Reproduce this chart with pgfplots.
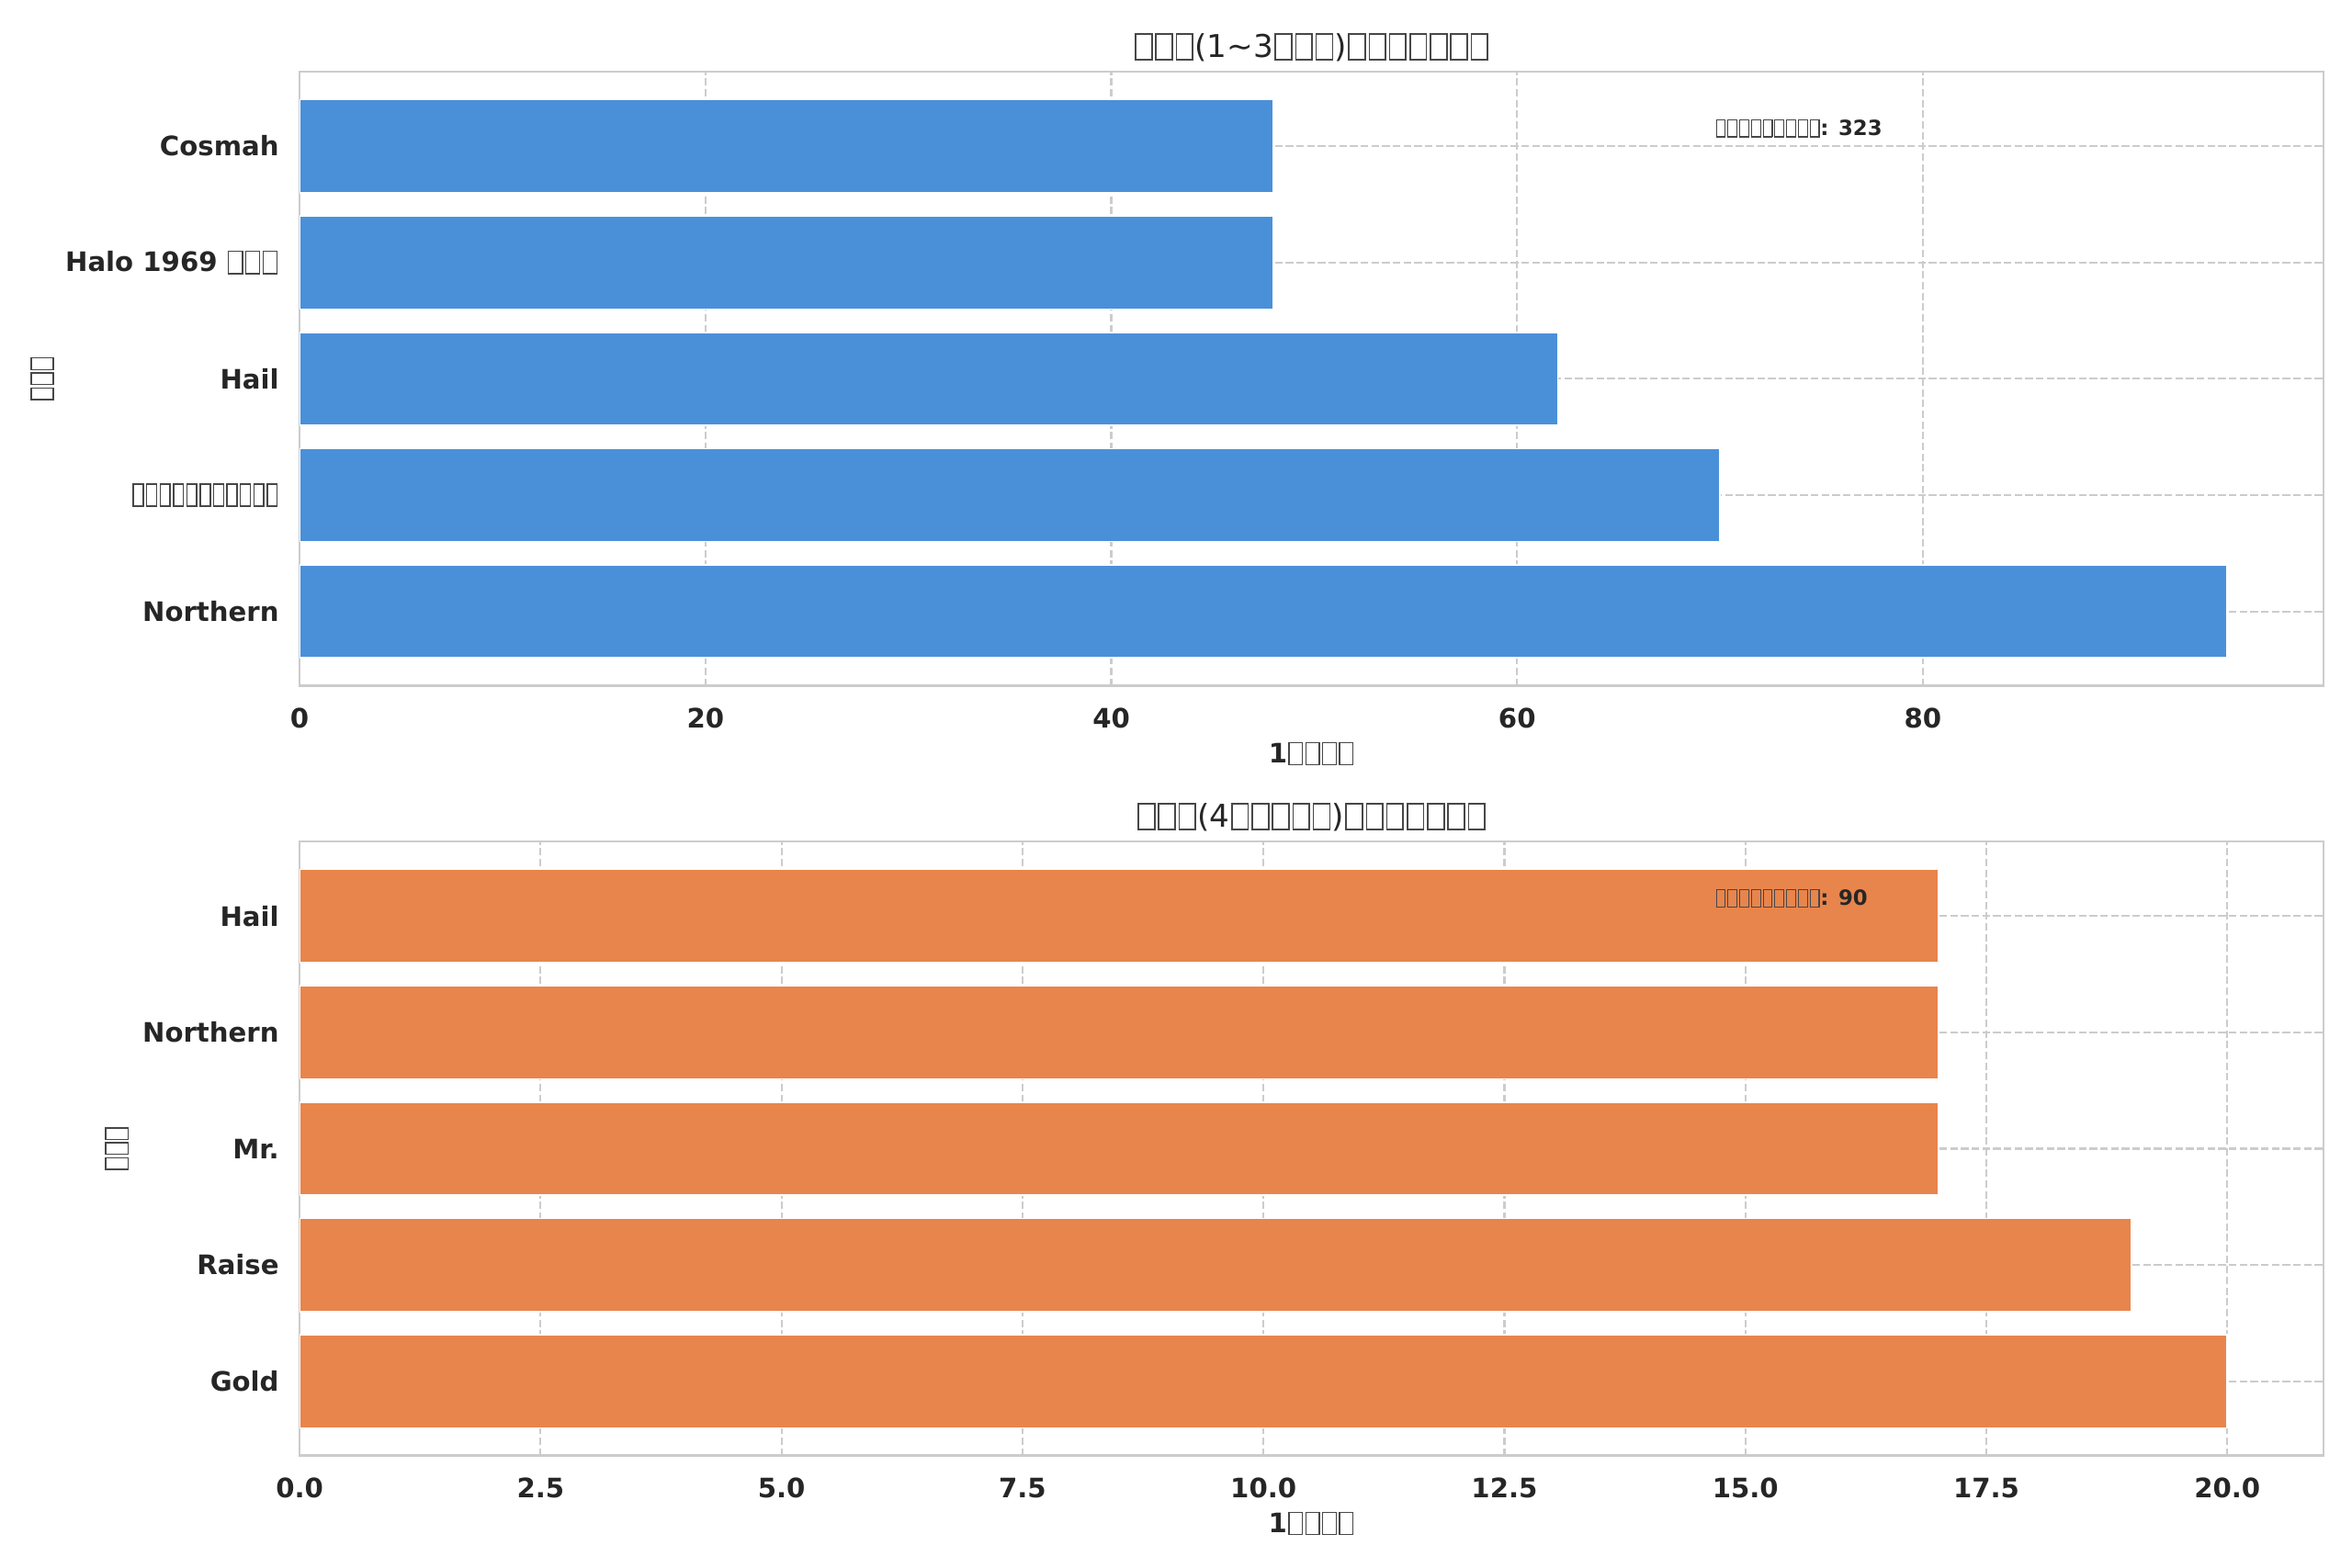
\documentclass[border=0pt]{standalone}
\usepackage{fontspec}
\setmainfont{DejaVu Sans}
\usepackage{pgfplots}
\pgfplotsset{compat=1.18}
\definecolor{barblue}{HTML}{4A90D9}
\definecolor{barorange}{HTML}{E8854C}
\definecolor{txt}{HTML}{262626}
\definecolor{gridc}{HTML}{CCCCCC}
% missing-glyph (tofu) boxes, as in the reference
\newcommand\tb[1][0.5em]{{\makebox[#1]{\raisebox{-0.05em}{\setlength\fboxsep{0pt}\setlength\fboxrule{0.05em}\color{txt!85}\fbox{\rule{0pt}{0.78em}\hspace{\dimexpr#1-0.18em\relax}}}}}}
\pgfplotsset{mystyle/.style={
  scale only axis, width=793.1pt, height=240.7pt,
  xbar, bar shift=0pt, bar width=0.8,
  ymin=-0.64, ymax=4.64, ytick={0,1,2,3,4}, xmin=0,
  grid=major,
  major grid style={gridc, line width=0.8pt, dash pattern=on 2.9pt off 1.3pt},
  axis line style={gridc, line width=0.9pt},
  major tick length=0pt,
  tick label style={font=\fontsize{10.5}{12}\selectfont\bfseries, text=txt, inner sep=0pt},
  xticklabel style={anchor=center, yshift=-12.6pt},
  yticklabel style={anchor=east, xshift=-7.9pt},
  /pgf/number format/assume math mode=true,
  title style={font=\fontsize{12.3}{14}\selectfont, text=txt, at={(0.5,1)}, anchor=center, yshift=3.6pt},
  xlabel style={font=\fontsize{10.5}{12}\selectfont\bfseries, text=txt, at={(0.5,0)}, anchor=center, yshift=-26.6pt},
  ylabel style={font=\fontsize{10.5}{12}\selectfont, text=txt, anchor=center},
}}
\newcommand\T{\tb[0.65em]}
\newcommand\X{\tb[0.63em]}
\newcommand\Y{\tb[0.56em]}
\newcommand\A{\tb[0.56em]}
\begin{document}
\begin{tikzpicture}
\useasboundingbox (0,0) rectangle (921.6pt,-614.5pt);
\begin{axis}[mystyle, at={(117.4pt,-28.1pt)}, anchor=north west,
  xmax=99.75, xtick={0,20,40,60,80},
  yticklabels={Northern,\tb\tb\tb\tb\tb\tb\tb\tb\tb\tb\tb,Hail,Halo 1969 \T\T\T,Cosmah},
  title={\T\T\T(1\textasciitilde3\T\T\T)\T\T\T\T\T\T\T},
  xlabel={1\X\X\X\X},
  ylabel={\Y\Y\Y}, ylabel style={at={(-0.1271,0.5)}},
]
\addplot[fill=barblue, draw=white, line width=0.6pt] coordinates {(95,0) (70,1) (62,2) (48,3) (48,4)};
\node[anchor=west, font=\fontsize{8.2}{10}\selectfont\bfseries, text=txt, inner sep=0pt] at (rel axis cs:0.699,0.908) {\A\A\A\A\A\A\A\A\A: 323};
\end{axis}
\begin{axis}[mystyle, at={(117.4pt,-329.8pt)}, anchor=north west,
  xmax=21, xtick={0,2.5,...,20},
  xticklabel style={/pgf/number format/.cd, fixed, fixed zerofill, precision=1},
  yticklabels={Gold,Raise,Mr.,Northern,Hail},
  title={\T\T\T(4\T\T\T\T\T)\T\T\T\T\T\T\T},
  xlabel={1\X\X\X\X},
  ylabel={\Y\Y\Y}, ylabel style={at={(-0.0903,0.5)}},
]
\addplot[fill=barorange, draw=white, line width=0.6pt] coordinates {(20,0) (19,1) (17,2) (17,3) (17,4)};
\node[anchor=west, font=\fontsize{8.2}{10}\selectfont\bfseries, text=txt, inner sep=0pt] at (rel axis cs:0.699,0.908) {\A\A\A\A\A\A\A\A\A: 90};
\end{axis}
\end{tikzpicture}
\end{document}
